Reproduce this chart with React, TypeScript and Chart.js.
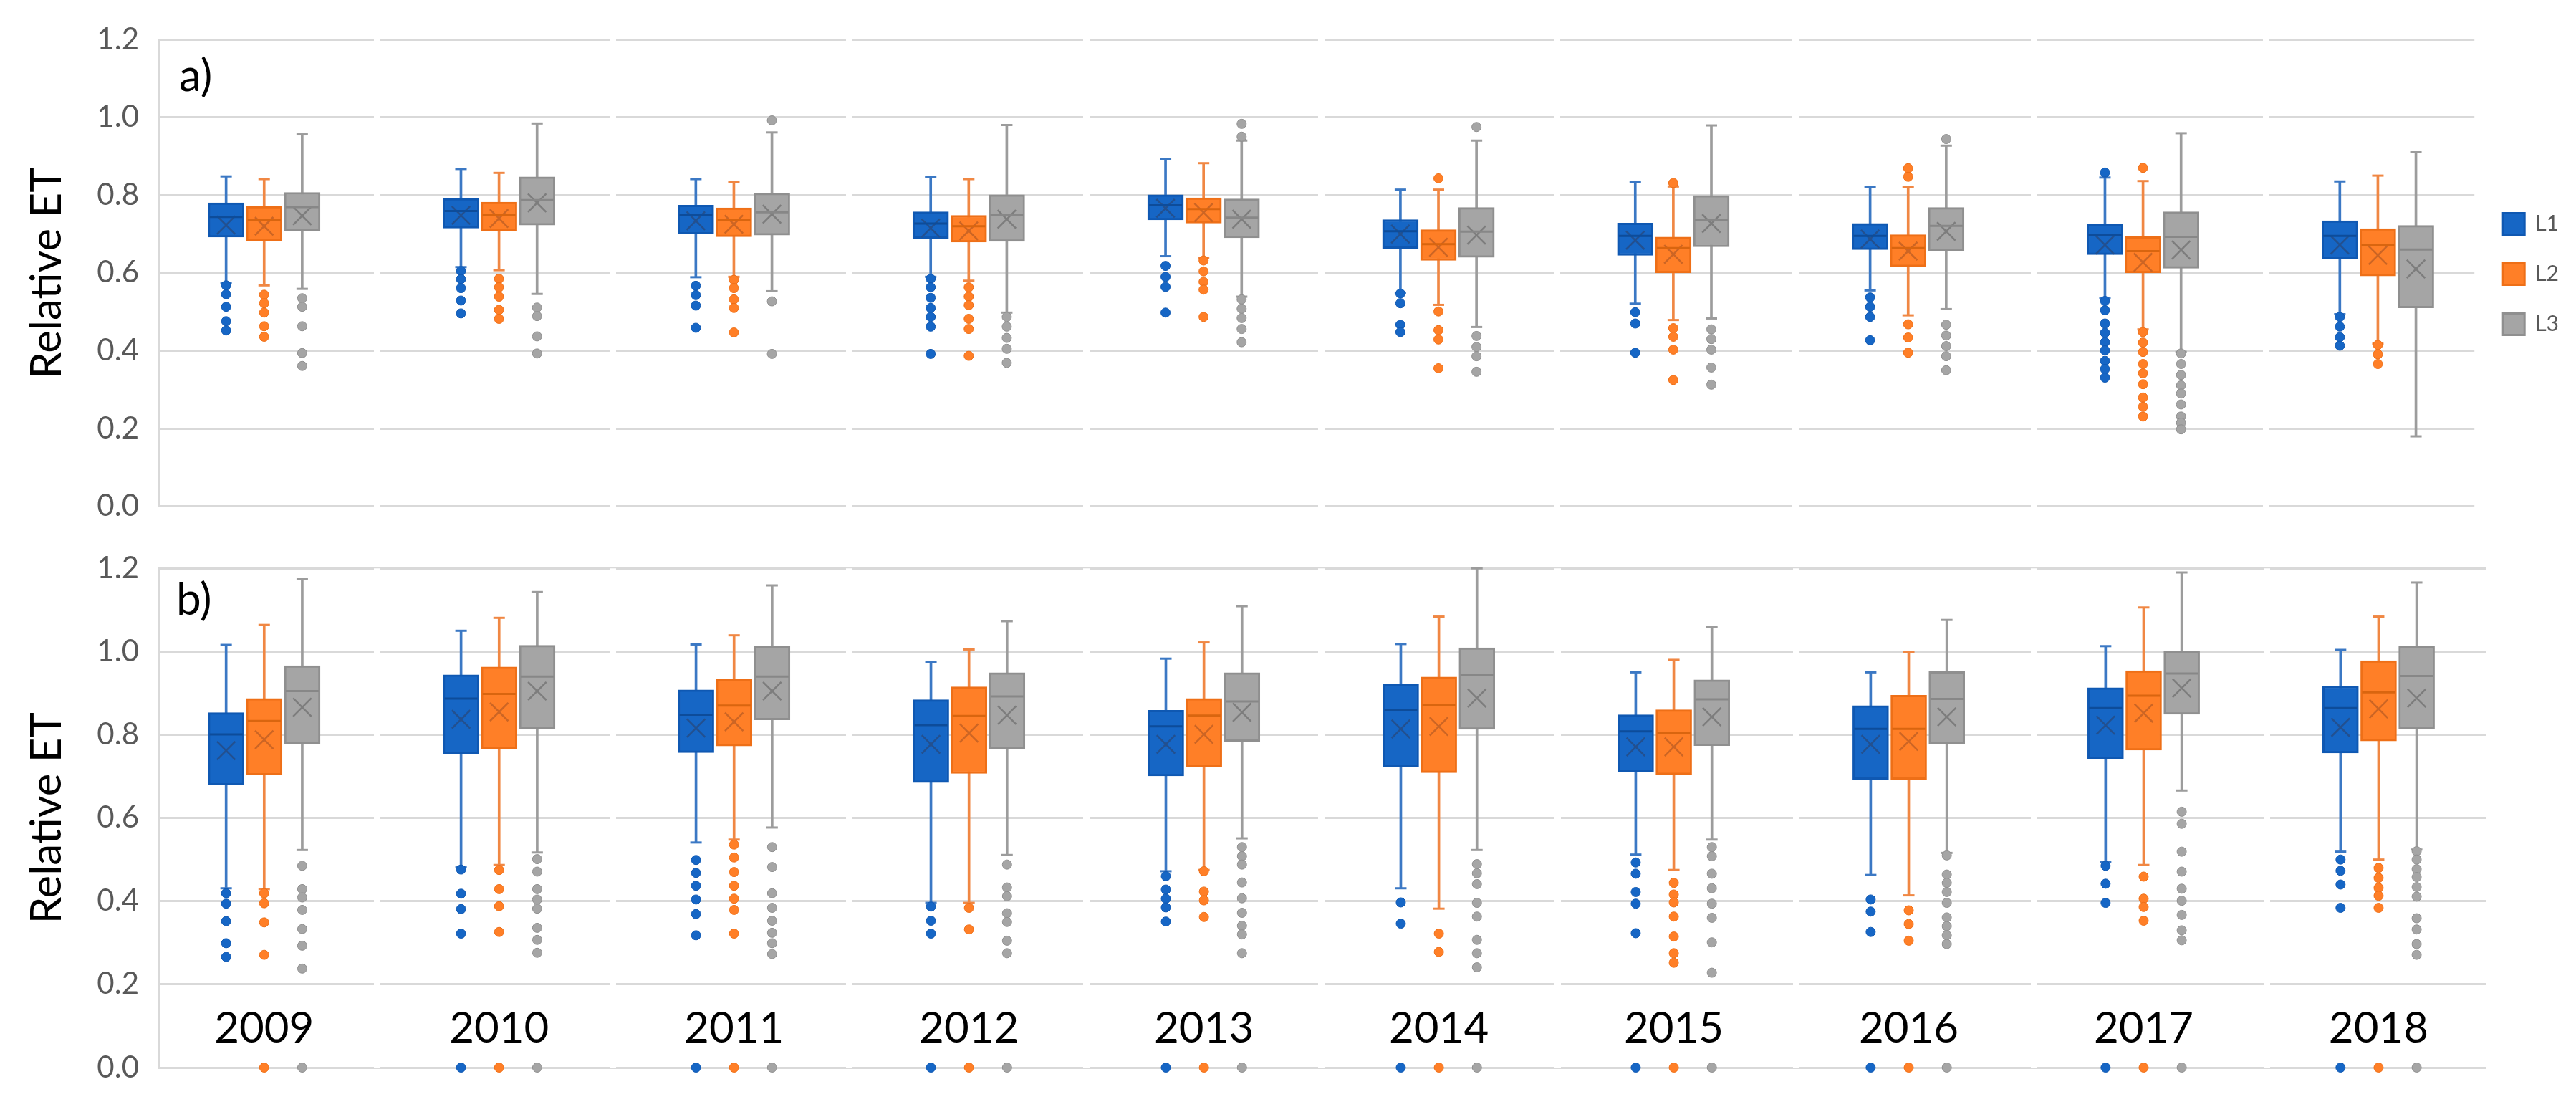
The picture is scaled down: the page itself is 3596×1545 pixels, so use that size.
import React, { useEffect, useRef } from 'react';
import { Chart, registerables } from 'chart.js';

Chart.register(...registerables);

const YEARS = ['2009', '2010', '2011', '2012', '2013', '2014', '2015', '2016', '2017', '2018'];
const SERIES = ['L1', 'L2', 'L3'];
const Y_TICKS = [0, 0.2, 0.4, 0.6, 0.8, 1.0, 1.2];

// ---------- Panel a) ----------
const A_L1_MAX = [0.848, 0.867, 0.841, 0.846, 0.893, 0.814, 0.834, 0.821, 0.845, 0.835];
const A_L1_Q3 = [0.780, 0.791, 0.774, 0.757, 0.801, 0.737, 0.728, 0.727, 0.726, 0.734];
const A_L1_MED = [0.744, 0.759, 0.748, 0.727, 0.774, 0.707, 0.695, 0.695, 0.698, 0.695];
const A_L1_MEAN = [0.723, 0.748, 0.734, 0.715, 0.766, 0.700, 0.684, 0.687, 0.672, 0.672];
const A_L1_Q1 = [0.692, 0.715, 0.700, 0.689, 0.736, 0.663, 0.645, 0.660, 0.647, 0.636];
const A_L1_MIN = [0.575, 0.615, 0.589, 0.590, 0.643, 0.549, 0.521, 0.555, 0.535, 0.494];
const A_L1_OUT = [
  [0.568, 0.545, 0.513, 0.476, 0.452],
  [0.605, 0.584, 0.561, 0.529, 0.496],
  [0.567, 0.543, 0.516, 0.459],
  [0.585, 0.563, 0.536, 0.510, 0.487, 0.462, 0.392],
  [0.618, 0.590, 0.564, 0.498],
  [0.547, 0.522, 0.467, 0.448],
  [0.499, 0.470, 0.395],
  [0.537, 0.513, 0.487, 0.427],
  [0.858, 0.528, 0.504, 0.470, 0.446, 0.422, 0.401, 0.374, 0.353, 0.331],
  [0.487, 0.462, 0.435, 0.413],
];

const A_L2_MAX = [0.841, 0.857, 0.833, 0.841, 0.882, 0.814, 0.822, 0.821, 0.836, 0.850];
const A_L2_Q3 = [0.771, 0.782, 0.767, 0.748, 0.793, 0.711, 0.692, 0.698, 0.693, 0.714];
const A_L2_MED = [0.736, 0.750, 0.736, 0.720, 0.764, 0.674, 0.664, 0.664, 0.656, 0.671];
const A_L2_MEAN = [0.720, 0.740, 0.725, 0.708, 0.755, 0.666, 0.648, 0.656, 0.627, 0.645];
const A_L2_Q1 = [0.683, 0.708, 0.693, 0.679, 0.728, 0.632, 0.600, 0.616, 0.600, 0.592];
const A_L2_MIN = [0.568, 0.607, 0.590, 0.580, 0.638, 0.518, 0.479, 0.491, 0.455, 0.418];
const A_L2_OUT = [
  [0.544, 0.522, 0.498, 0.463, 0.436],
  [0.585, 0.563, 0.539, 0.505, 0.482],
  [0.582, 0.561, 0.532, 0.510, 0.447],
  [0.563, 0.539, 0.517, 0.482, 0.456, 0.387],
  [0.632, 0.604, 0.577, 0.557, 0.487],
  [0.843, 0.501, 0.453, 0.429, 0.355],
  [0.831, 0.458, 0.436, 0.403, 0.325],
  [0.869, 0.847, 0.468, 0.434, 0.395],
  [0.870, 0.448, 0.421, 0.397, 0.366, 0.342, 0.314, 0.280, 0.256, 0.231],
  [0.415, 0.391, 0.366],
];

const A_L3_MAX = [0.956, 0.984, 0.961, 0.980, 0.940, 0.940, 0.979, 0.927, 0.959, 0.910];
const A_L3_Q3 = [0.807, 0.847, 0.805, 0.801, 0.790, 0.768, 0.799, 0.768, 0.757, 0.722];
const A_L3_MED = [0.769, 0.787, 0.756, 0.748, 0.742, 0.706, 0.735, 0.721, 0.693, 0.660];
const A_L3_MEAN = [0.747, 0.780, 0.751, 0.738, 0.738, 0.697, 0.727, 0.707, 0.659, 0.610];
const A_L3_Q1 = [0.709, 0.723, 0.697, 0.681, 0.690, 0.640, 0.667, 0.656, 0.612, 0.510];
const A_L3_MIN = [0.559, 0.546, 0.553, 0.498, 0.539, 0.461, 0.483, 0.507, 0.397, 0.180];
const A_L3_OUT = [
  [0.535, 0.513, 0.463, 0.394, 0.361],
  [0.511, 0.489, 0.437, 0.393],
  [0.992, 0.527, 0.392],
  [0.487, 0.462, 0.433, 0.405, 0.369],
  [0.983, 0.950, 0.532, 0.508, 0.484, 0.456, 0.422],
  [0.975, 0.438, 0.410, 0.386, 0.346],
  [0.455, 0.430, 0.403, 0.357, 0.313],
  [0.944, 0.467, 0.439, 0.412, 0.386, 0.350],
  [0.393, 0.366, 0.338, 0.311, 0.290, 0.262, 0.231, 0.215, 0.198],
  [],
];

// ---------- Panel b) ----------
const B_L1_MAX = [1.016, 1.050, 1.017, 0.974, 0.983, 1.018, 0.950, 0.950, 1.013, 1.004];
const B_L1_Q3 = [0.853, 0.944, 0.908, 0.884, 0.859, 0.922, 0.848, 0.870, 0.913, 0.917];
const B_L1_MED = [0.801, 0.887, 0.848, 0.823, 0.820, 0.859, 0.808, 0.814, 0.864, 0.864];
const B_L1_MEAN = [0.762, 0.837, 0.816, 0.777, 0.777, 0.814, 0.771, 0.777, 0.823, 0.818];
const B_L1_Q1 = [0.679, 0.754, 0.757, 0.685, 0.701, 0.722, 0.710, 0.693, 0.743, 0.756];
const B_L1_MIN = [0.431, 0.483, 0.541, 0.396, 0.472, 0.431, 0.512, 0.463, 0.495, 0.519];
const B_L1_OUT = [
  [0.419, 0.394, 0.352, 0.299, 0.266],
  [0.476, 0.418, 0.381, 0.322, 0],
  [0.499, 0.468, 0.437, 0.404, 0.369, 0.318, 0],
  [0.387, 0.353, 0.322, 0],
  [0.460, 0.428, 0.406, 0.385, 0.351, 0],
  [0.397, 0.346, 0],
  [0.493, 0.466, 0.422, 0.394, 0.323, 0],
  [0.404, 0.375, 0.326, 0],
  [0.485, 0.442, 0.396, 0],
  [0.500, 0.473, 0.440, 0.384, 0],
];

const B_L2_MAX = [1.064, 1.081, 1.039, 1.005, 1.022, 1.084, 0.980, 0.999, 1.106, 1.084];
const B_L2_Q3 = [0.887, 0.963, 0.934, 0.915, 0.887, 0.939, 0.860, 0.895, 0.954, 0.978];
const B_L2_MED = [0.833, 0.898, 0.870, 0.845, 0.846, 0.871, 0.804, 0.814, 0.894, 0.902];
const B_L2_MEAN = [0.788, 0.855, 0.831, 0.804, 0.801, 0.820, 0.771, 0.784, 0.852, 0.862];
const B_L2_Q1 = [0.703, 0.766, 0.773, 0.707, 0.722, 0.709, 0.704, 0.693, 0.763, 0.785];
const B_L2_MIN = [0.429, 0.487, 0.548, 0.396, 0.475, 0.382, 0.475, 0.414, 0.487, 0.500];
const B_L2_OUT = [
  [0.419, 0.395, 0.349, 0.271, 0],
  [0.475, 0.429, 0.388, 0.326, 0],
  [0.536, 0.505, 0.470, 0.437, 0.406, 0.379, 0.322, 0],
  [0.384, 0.332, 0],
  [0.472, 0.423, 0.402, 0.362, 0],
  [0.322, 0.278, 0],
  [0.444, 0.416, 0.397, 0.363, 0.315, 0.275, 0.252, 0],
  [0.378, 0.345, 0.305, 0],
  [0.459, 0.406, 0.386, 0.353, 0],
  [0.480, 0.456, 0.432, 0.413, 0.384, 0],
];

const B_L3_MAX = [1.175, 1.143, 1.159, 1.073, 1.109, 1.200, 1.059, 1.076, 1.190, 1.166];
const B_L3_Q3 = [0.966, 1.015, 1.012, 0.949, 0.949, 1.009, 0.932, 0.952, 1.000, 1.012];
const B_L3_MED = [0.905, 0.940, 0.940, 0.892, 0.880, 0.944, 0.885, 0.886, 0.947, 0.941];
const B_L3_MEAN = [0.866, 0.905, 0.905, 0.847, 0.854, 0.888, 0.843, 0.843, 0.912, 0.888];
const B_L3_Q1 = [0.778, 0.814, 0.836, 0.767, 0.784, 0.813, 0.774, 0.778, 0.849, 0.815];
const B_L3_MIN = [0.523, 0.517, 0.577, 0.511, 0.551, 0.523, 0.548, 0.516, 0.666, 0.524];
const B_L3_OUT = [
  [0.485, 0.429, 0.409, 0.379, 0.333, 0.293, 0.238, 0],
  [0.501, 0.471, 0.429, 0.404, 0.382, 0.336, 0.307, 0.276, 0],
  [0.530, 0.482, 0.419, 0.384, 0.353, 0.324, 0.299, 0.273, 0],
  [0.488, 0.433, 0.412, 0.371, 0.350, 0.305, 0.275, 0],
  [0.530, 0.508, 0.488, 0.445, 0.407, 0.372, 0.341, 0.320, 0.275, 0],
  [0.489, 0.467, 0.441, 0.396, 0.363, 0.307, 0.275, 0.241, 0],
  [0.530, 0.508, 0.466, 0.431, 0.394, 0.360, 0.301, 0.228, 0],
  [0.510, 0.464, 0.444, 0.422, 0.396, 0.361, 0.340, 0.318, 0.297, 0],
  [0.615, 0.586, 0.519, 0.471, 0.430, 0.401, 0.367, 0.330, 0.306, 0],
  [0.520, 0.500, 0.477, 0.458, 0.434, 0.411, 0.359, 0.332, 0.297, 0.271, 0],
];

// ---------- styling ----------
const FONT = 'Lato, "Open Sans", "DejaVu Sans", sans-serif';
const COLORS = [
  { fill: '#1666C5', border: '#0F58B2', median: '#0D4C9A', mean: '#23508F', whisker: '#3B78C4' },
  { fill: '#FF7F27', border: '#EE6F17', median: '#D9650F', mean: '#CC6524', whisker: '#F08743' },
  { fill: '#A5A5A5', border: '#8F8F8F', median: '#878787', mean: '#7D7D7D', whisker: '#9C9C9C' },
];
const OFFSETS = [-0.162, 0, 0.162];
// small white breaks in the horizontal gridlines between the year groups
const GAP_TICKS = [0.48, 1.485, 2.49, 3.5, 4.5, 5.505, 6.52, 7.535, 8.525];
const GRID = '#D9D9D9';

type Stats = {
  min: number[]; q1: number[]; med: number[]; mean: number[]; q3: number[]; max: number[]; out: number[][];
};

const PANEL_A: Stats[] = [
  { min: A_L1_MIN, q1: A_L1_Q1, med: A_L1_MED, mean: A_L1_MEAN, q3: A_L1_Q3, max: A_L1_MAX, out: A_L1_OUT },
  { min: A_L2_MIN, q1: A_L2_Q1, med: A_L2_MED, mean: A_L2_MEAN, q3: A_L2_Q3, max: A_L2_MAX, out: A_L2_OUT },
  { min: A_L3_MIN, q1: A_L3_Q1, med: A_L3_MED, mean: A_L3_MEAN, q3: A_L3_Q3, max: A_L3_MAX, out: A_L3_OUT },
];
const PANEL_B: Stats[] = [
  { min: B_L1_MIN, q1: B_L1_Q1, med: B_L1_MED, mean: B_L1_MEAN, q3: B_L1_Q3, max: B_L1_MAX, out: B_L1_OUT },
  { min: B_L2_MIN, q1: B_L2_Q1, med: B_L2_MED, mean: B_L2_MEAN, q3: B_L2_Q3, max: B_L2_MAX, out: B_L2_OUT },
  { min: B_L3_MIN, q1: B_L3_Q1, med: B_L3_MED, mean: B_L3_MEAN, q3: B_L3_Q3, max: B_L3_MAX, out: B_L3_OUT },
];

function buildDatasets(stats: Stats[]) {
  const ds: any[] = [];
  stats.forEach((s, k) => {
    const c = COLORS[k];
    const xs = YEARS.map((_, i) => i + OFFSETS[k]);
    ds.push({
      type: 'bar', label: SERIES[k],
      data: xs.map((x, i) => ({ x, y: [s.q1[i], s.q3[i]] })),
      backgroundColor: c.fill, borderColor: c.border, borderWidth: 3, borderSkipped: false,
      barThickness: 50, grouped: false, order: 2,
    });
    ds.push({
      type: 'bar', label: '',
      data: xs.map((x, i) => ({ x, y: [s.min[i], s.max[i]] })),
      backgroundColor: c.whisker, borderWidth: 0, barThickness: 3, grouped: false, order: 4,
    });
    ds.push({
      type: 'scatter', label: '',
      data: xs.flatMap((x, i) => [{ x, y: s.min[i] }, { x, y: s.max[i] }]),
      pointStyle: 'line', pointRadius: 8, pointBorderWidth: 3, pointBorderColor: c.whisker,
      order: 3, clip: false,
    });
    ds.push({
      type: 'scatter', label: '',
      data: xs.map((x, i) => ({ x, y: s.med[i] })),
      pointStyle: 'line', pointRadius: 23, pointBorderWidth: 3, pointBorderColor: c.median,
      order: 1, clip: false,
    });
    ds.push({
      type: 'scatter', label: '',
      data: xs.map((x, i) => ({ x, y: s.mean[i] })),
      pointStyle: 'crossRot', pointRadius: 18, pointBorderWidth: 2.5, pointBorderColor: c.mean,
      order: 1, clip: false,
    });
    ds.push({
      type: 'scatter', label: '',
      data: xs.flatMap((x, i) => s.out[i].map((v) => ({ x, y: v }))),
      pointStyle: 'circle', pointRadius: 6.5, pointBackgroundColor: c.fill, pointBorderColor: c.border,
      pointBorderWidth: 1, order: 0, clip: false,
    });
  });
  return ds;
}

const panelText = {
  id: 'panelText',
  afterDraw(chart: any, _args: any, opts: any) {
    const { ctx, chartArea, scales } = chart;
    ctx.save();
    ctx.fillStyle = '#000';
    ctx.textBaseline = 'alphabetic';
    ctx.font = `62px ${FONT}`;
    ctx.textAlign = 'left';
    ctx.fillText(opts.text, chartArea.left + opts.dx, chartArea.top + opts.dy);
    if (opts.years) {
      ctx.font = `60px ${FONT}`;
      ctx.textAlign = 'center';
      YEARS.forEach((y, i) => {
        ctx.fillText(y, scales.x.getPixelForValue(i), chartArea.bottom + opts.yearDy);
      });
    }
    ctx.restore();
  },
};

function yScale() {
  return {
    min: 0, max: 1.2,
    afterBuildTicks: (scale: any) => { scale.ticks = Y_TICKS.map((v) => ({ value: v })); },
    afterFit: (scale: any) => { scale.width = 222; },
    ticks: {
      padding: 28, color: '#595959', font: { size: 42, family: FONT },
      callback: (v: any) => Number(v).toFixed(1),
    },
    grid: { color: GRID, lineWidth: 3, drawTicks: false },
    border: { display: true, color: GRID, width: 3 },
    title: {
      display: true, text: 'Relative ET', color: '#000',
      font: { size: 60, family: FONT }, padding: { top: 30, bottom: 0 },
    },
  };
}

function xScale(max: number, height: number) {
  return {
    type: 'linear', min: -0.4476, max, offset: false,
    afterBuildTicks: (scale: any) => { scale.ticks = GAP_TICKS.map((v) => ({ value: v })); },
    afterFit: (scale: any) => { scale.height = height; },
    ticks: { display: false },
    grid: { display: true, color: '#FFFFFF', lineWidth: 9, drawTicks: false, offset: false, z: 1 },
    border: { display: false },
  };
}

function makeConfig(stats: Stats[], top: boolean): any {
  return {
    type: 'scatter',
    data: { datasets: buildDatasets(stats) },
    options: {
      animation: false,
      responsive: false,
      devicePixelRatio: 1,
      events: [],
      layout: top
        ? { padding: { top: 55, bottom: 50, left: 0, right: 14 } }
        : { padding: { top: 50, bottom: 0, left: 0, right: 126 } },
      scales: {
        x: top ? xScale(9.411, 0) : xScale(9.456, 55),
        y: yScale(),
      },
      plugins: {
        tooltip: { enabled: false },
        legend: top
          ? {
              display: true, position: 'right',
              labels: {
                boxWidth: 30, boxHeight: 30, padding: 40, color: '#595959',
                font: { size: 30, family: FONT },
                filter: (item: any) => SERIES.includes(item.text),
              },
            }
          : { display: false },
        panelText: top
          ? { text: 'a)', dx: 28, dy: 72, years: false }
          : { text: 'b)', dx: 24, dy: 65, years: true, yearDy: -35 },
      },
    },
    plugins: [panelText],
  };
}

export default function App() {
  const topRef = useRef<HTMLCanvasElement>(null);
  const botRef = useRef<HTMLCanvasElement>(null);

  useEffect(() => {
    document.body.style.margin = '0';
    const c1 = new Chart(topRef.current as HTMLCanvasElement, makeConfig(PANEL_A, true));
    const c2 = new Chart(botRef.current as HTMLCanvasElement, makeConfig(PANEL_B, false));
    return () => {
      c1.destroy();
      c2.destroy();
    };
  }, []);

  return (
    <div style={{ position: 'relative', width: 3596, height: 1545, overflow: 'hidden', background: '#fff' }}>
      <canvas
        ref={topRef}
        width={3596}
        height={760}
        style={{ position: 'absolute', left: 0, top: 0, width: 3596, height: 760 }}
      />
      <canvas
        ref={botRef}
        width={3596}
        height={805}
        style={{ position: 'absolute', left: 0, top: 740, width: 3596, height: 805 }}
      />
    </div>
  );
}
